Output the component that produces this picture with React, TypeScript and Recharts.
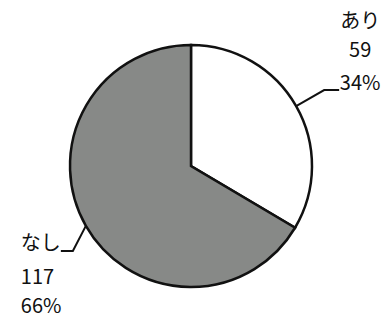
import { PieChart, Pie, Cell } from "recharts";

const labels = ["あり", "なし"];
const counts = [59, 117];
const fills = ["#ffffff", "#878987"];

const data = labels.map((name, i) => ({ name, value: counts[i] }));
const total = counts.reduce((a, b) => a + b, 0);

const RADIAN = Math.PI / 180;
const font = "'Noto Sans CJK JP', 'Noto Sans', sans-serif";

function renderLabel(props: any) {
  const { cx, cy, midAngle, outerRadius, index } = props;
  const sx = cx + outerRadius * Math.cos(-midAngle * RADIAN);
  const sy = cy + outerRadius * Math.sin(-midAngle * RADIAN);
  const right = Math.cos(-midAngle * RADIAN) >= 0;
  const pct = Math.round((counts[index] / total) * 100) + "%";
  const t = { fontSize: 20, fontFamily: font, fill: "#111" };

  if (right) {
    const mx = sx + 28;
    const my = sy - 16;
    const ex = mx + 15;
    const tx = ex + 21;
    return (
      <g>
        <polyline points={`${sx},${sy} ${mx},${my} ${ex},${my}`} fill="none" stroke="#111" strokeWidth={2} />
        <text x={tx} y={my - 62} textAnchor="middle" {...t}>{labels[index]}</text>
        <text x={tx} y={my - 33} textAnchor="middle" {...t}>{counts[index]}</text>
        <text x={tx} y={my - 0} textAnchor="middle" {...t}>{pct}</text>
      </g>
    );
  }
  const mx = sx - 13;
  const my = sy + 25;
  const ex = mx - 12;
  const tx = ex - 40;
  return (
    <g>
      <polyline points={`${sx},${sy} ${mx},${my} ${ex},${my}`} fill="none" stroke="#111" strokeWidth={2} />
      <text x={tx} y={my - 1} textAnchor="start" {...t}>{labels[index]}</text>
      <text x={tx} y={my + 33} textAnchor="start" {...t}>{counts[index]}</text>
      <text x={tx} y={my + 62} textAnchor="start" {...t}>{pct}</text>
    </g>
  );
}

export default function App() {
  return (
    <div style={{ position: "fixed", left: 0, top: 0, width: 390, height: 318, background: "#fff" }}>
      <PieChart width={390} height={318} margin={{ top: 0, right: 0, bottom: 0, left: 0 }}>
        <Pie
          data={data}
          dataKey="value"
          cx={191}
          cy={166}
          outerRadius={121}
          startAngle={90}
          endAngle={-270}
          stroke="#111"
          strokeWidth={2.5}
          label={renderLabel}
          labelLine={false}
          isAnimationActive={false}
        >
          {data.map((d, i) => (
            <Cell key={d.name} fill={fills[i]} />
          ))}
        </Pie>
      </PieChart>
    </div>
  );
}
